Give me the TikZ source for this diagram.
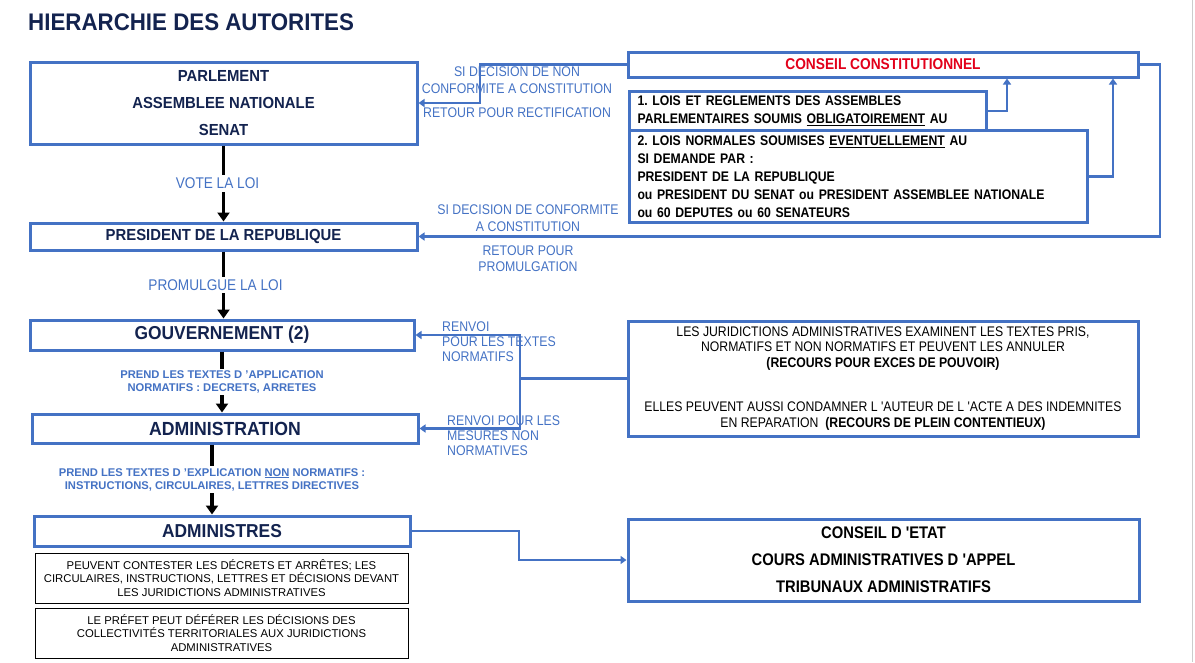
\documentclass[tikz,border=0pt]{standalone}
\usepackage{fontspec}
\setmainfont{Liberation Sans}
\newfontfamily\titlefont[FakeStretch=0.93]{Liberation Sans}
\newfontfamily\narrowfont[FakeStretch=0.88]{Liberation Sans}
\usetikzlibrary{arrows.meta,positioning}
\definecolor{hblue}{HTML}{4472C4}
\definecolor{hnavy}{HTML}{13234F}
\definecolor{hred}{HTML}{E2001A}
\frenchspacing

\begin{document}
\begin{tikzpicture}[x=1pt,y=-1pt,
	bluebox/.style={draw=hblue,line width=3pt,fill=white,inner sep=0pt},
	authbox/.style={bluebox,align=center,text=hnavy,font=\titlefont\bfseries\fontsize{16}{27}\selectfont},
	bigbox/.style={authbox,font=\titlefont\bfseries\fontsize{18.7}{22}\selectfont},
	infobox/.style={bluebox,text=black,font=\narrowfont\bfseries\fontsize{13.9}{18}\selectfont},
	thinbox/.style={draw=black,line width=0.8pt,inner sep=0pt,align=center,minimum width=373pt,minimum height=50pt,font=\fontsize{11.3}{13.5}\selectfont},
	bluelbl/.style={text=hblue,align=center,inner sep=1pt,font=\narrowfont\fontsize{14}{17}\selectfont},
	steplbl/.style={bluelbl,fill=white,inner sep=3pt,font=\narrowfont\fontsize{15.5}{17}\selectfont},
	smalllbl/.style={text=hblue,align=center,inner sep=2pt,fill=white,font=\bfseries\fontsize{11.2}{13}\selectfont},
	down/.style={line width=3.6pt,-{Triangle[length=9pt,width=12pt]}},
	blink/.style={draw=hblue,line width=2.6pt,-{Triangle[length=6pt,width=8pt]}}]
	\useasboundingbox (0,0) rectangle (1195,662);
	\draw[black!20,line width=1pt] (1192,0) -- (1192,662);
	\node[anchor=west,inner sep=0pt,text=hnavy,font=\titlefont\bfseries\fontsize{24}{28}\selectfont]
		(title) at (28,22) {HIERARCHIE DES AUTORITES};
	% colonne de gauche
	\node[authbox,minimum width=387pt,minimum height=82pt] (parl) at (223.5,103)
		{PARLEMENT\\ASSEMBLEE NATIONALE\\SENAT};
	\node[authbox,minimum width=387pt,minimum height=27pt] (pres) at (223.5,236.5)
		{PRESIDENT DE LA REPUBLIQUE};
	\node[bigbox,minimum width=384pt,minimum height=30pt] (gouv) at (222,335)
		{GOUVERNEMENT (2)};
	\node[bigbox,minimum width=386pt,minimum height=29pt,font=\titlefont\bfseries\fontsize{19}{22}\selectfont] (admin) at (225,428.5)
		{ADMINISTRATION};
	\node[bigbox,minimum width=376pt,minimum height=30pt] (admres) at (222,531)
		{ADMINISTRES};
	\node[thinbox] (contest) at (221.5,578)
		{PEUVENT CONTESTER LES DÉCRETS ET ARRÊTES; LES\\CIRCULAIRES, INSTRUCTIONS, LETTRES ET DÉCISIONS DEVANT\\LES JURIDICTIONS ADMINISTRATIVES};
	\node[thinbox] (prefet) at (221.5,633)
		{LE PRÉFET PEUT DÉFÉRER LES DÉCISIONS DES\\COLLECTIVITÉS TERRITORIALES AUX JURIDICTIONS\\ADMINISTRATIVES};
	% colonne de droite
	\node[bluebox,minimum width=510pt,minimum height=25pt,text=hred,
		font=\narrowfont\bfseries\fontsize{15.6}{18}\selectfont] (cc) at (883,64.5)
		{CONSEIL CONSTITUTIONNEL};
	\node[infobox,anchor=north west,minimum width=357pt,minimum height=39pt,
		text width=341pt,inner xsep=8pt,align=left] (lois1) at (628,90)
		{1. LOIS ET REGLEMENTS DES ASSEMBLES\\PARLEMENTAIRES SOUMIS \underline{OBLIGATOIREMENT} AU};
	\node[infobox,anchor=north west,minimum width=458pt,minimum height=92pt,
		text width=442pt,inner xsep=8pt,align=left] (lois2) at (628,129)
		{2. LOIS NORMALES SOUMISES \underline{EVENTUELLEMENT} AU\\SI DEMANDE PAR :\\PRESIDENT DE LA REPUBLIQUE\\ou PRESIDENT DU SENAT ou PRESIDENT ASSEMBLEE NATIONALE\\ou 60 DEPUTES ou 60 SENATEURS};
	\node[bluebox,minimum width=510pt,minimum height=115pt,align=center,
		font=\narrowfont\fontsize{13.9}{15.5}\selectfont] (jur) at (883,378.5)
		{LES JURIDICTIONS ADMINISTRATIVES EXAMINENT LES TEXTES PRIS,\\NORMATIFS ET NON NORMATIFS ET PEUVENT LES ANNULER\\\textbf{(RECOURS POUR EXCES DE POUVOIR)}\\[29pt]ELLES PEUVENT AUSSI CONDAMNER L 'AUTEUR DE L 'ACTE A DES INDEMNITES\\EN REPARATION\ \ \textbf{(RECOURS DE PLEIN CONTENTIEUX)}};
	\node[bluebox,minimum width=511pt,minimum height=82pt,align=center,
		font=\narrowfont\bfseries\fontsize{16.8}{27}\selectfont] (ce) at (883.5,560)
		{CONSEIL D 'ETAT\\COURS ADMINISTRATIVES D 'APPEL\\TRIBUNAUX ADMINISTRATIFS};
	% fleches noires
	\draw[down] (parl.south) -- node[steplbl,xshift=-6pt] (vote) {VOTE LA LOI} (pres.north);
	\draw[down] (pres.south) -- node[steplbl,xshift=-8pt] (promu) {PROMULGUE LA LOI} (pres.south |- gouv.north);
	\draw[down] (gouv.south) -- node[smalllbl] (appl) {PREND LES TEXTES D 'APPLICATION\\NORMATIFS : DECRETS, ARRETES} (gouv.south |- admin.north);
	\coordinate (ad) at (212,0);
	\draw[down] (ad |- admin.south) -- node[smalllbl] (expl) {PREND LES TEXTES D 'EXPLICATION \underline{NON} NORMATIFS :\\INSTRUCTIONS, CIRCULAIRES, LETTRES DIRECTIVES} (ad |- admres.north);
	% fleches bleues
	\coordinate (nc) at (480,0);
	\coordinate (ok) at (1160,0);
	\coordinate (up1) at (1007,0);
	\coordinate (up2) at (1113,0);
	\coordinate (renv) at (520,0);
	\coordinate (dn) at (519,0);
	\draw[blink] (cc.west) -| (nc |- parl.east) -- (parl.east);
	\draw[blink] (cc.east) -| (ok |- pres.east) -- (pres.east);
	\draw[blink] (lois1.east) -| (up1 |- cc.south);
	\draw[blink] (lois2.east) -| (up2 |- cc.south);
	\draw[blink] (jur.west) -| (renv |- gouv.east) -- (gouv.east);
	\draw[blink] (jur.west) -| (renv |- admin.east) -- (admin.east);
	\draw[blink] (admres.east) -| (dn |- ce.west) -- (ce.west);
	% textes bleus
	\node[bluelbl] (nonconf) at (517,80.5) {SI DECISION DE NON\\CONFORMITE A CONSTITUTION};
	\node[bluelbl] (rectif) at (517,113) {RETOUR POUR RECTIFICATION};
	\node[bluelbl] (conf) at (528,218.5) {SI DECISION DE CONFORMITE\\A CONSTITUTION};
	\node[bluelbl,font=\narrowfont\fontsize{14}{16}\selectfont] (promul) at (528,259) {RETOUR POUR\\PROMULGATION};
	\node[bluelbl,anchor=west,align=left,font=\narrowfont\fontsize{14}{15}\selectfont] (renv1) at (441,342) {RENVOI\\POUR LES TEXTES\\NORMATIFS};
	\node[bluelbl,anchor=west,align=left,font=\narrowfont\fontsize{14}{15}\selectfont] (renv2) at (446,436) {RENVOI POUR LES\\MESURES NON\\NORMATIVES};
\end{tikzpicture}
\end{document}
